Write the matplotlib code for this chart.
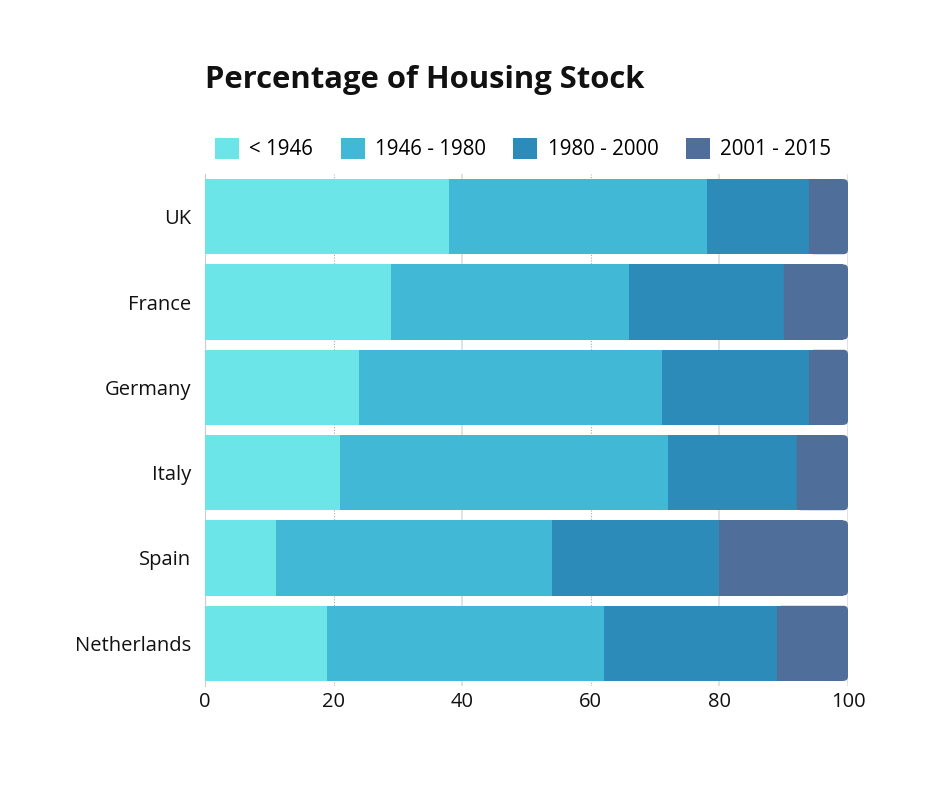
import matplotlib
matplotlib.use("Agg")
import matplotlib.pyplot as plt
from matplotlib.patches import FancyBboxPatch, Rectangle, Patch
import numpy as np

plt.rcParams['font.family'] = ['Open Sans', 'DejaVu Sans']

countries = ["UK", "France", "Germany", "Italy", "Spain", "Netherlands"]
series_names = ["< 1946", "1946 - 1980", "1980 - 2000", "2001 - 2015"]
pre1946 = [38, 29, 24, 21, 11, 19]
y1946_1980 = [40, 37, 47, 51, 43, 43]
y1980_2000 = [16, 24, 23, 20, 26, 27]
y2001_2015 = [6, 10, 6, 8, 20, 11]
colors = ["#6CE5E8", "#41B8D5", "#2D8BBA", "#506E9A"]
xticks = [0, 20, 40, 60, 80, 100]

fig = plt.figure(figsize=(9.4, 7.88), dpi=100)
ax = fig.add_axes([205/940, (788-686)/788, 643/940, 512/788])

H = 0.88
y = np.arange(len(countries))
left = np.zeros(len(countries))
all_series = [pre1946, y1946_1980, y1980_2000, y2001_2015]
for k, (name, vals, c) in enumerate(zip(series_names, all_series, colors)):
    if k < len(all_series) - 1:
        ax.barh(y, vals, left=left, height=H, color=c, edgecolor='none', zorder=3)
    else:
        # last segment with rounded right end
        r = 0.7
        aspect = (643/100) / (512/6)
        for yi, l, w in zip(y, left, vals):
            p = FancyBboxPatch((l, yi - H/2), w, H,
                               boxstyle=f"round,pad=0,rounding_size={r}",
                               mutation_aspect=aspect, fc=c, ec='none', zorder=3)
            ax.add_patch(p)
            ax.add_patch(Rectangle((l, yi - H/2), w - r, H, fc=c, ec='none', zorder=3))
    left += np.array(vals)

ax.set_xlim(0, 100)
ax.set_ylim(5.5, -0.5)
ax.set_yticks(y)
ax.set_yticklabels(countries, fontsize=14.5)
ax.set_xticks(xticks)
ax.set_xticklabels([str(t) for t in xticks], fontsize=14.5)
ax.tick_params(axis='both', length=0, colors='#111111')
ax.tick_params(axis='y', pad=10)
ax.tick_params(axis='x', pad=4)
for s in ['top', 'right', 'bottom']:
    ax.spines[s].set_visible(False)
ax.spines['left'].set_color('#cccccc')
for t in [20, 60]:
    ax.axvline(t, color='#aaaaaa', lw=0.8, ls=(0, (1, 1.5)), zorder=1)
for t in [40, 80, 100]:
    ax.axvline(t, color='#dddddd', lw=1.2, zorder=1)

fig.text(205/940, 1-80/788, "Percentage of Housing Stock", fontsize=22.3, fontweight='bold',
         va='center', ha='left', color='#111111')

handles = [Patch(fc=c, ec='none') for c in colors]
leg = fig.legend(handles, series_names, loc='center', bbox_to_anchor=(523/940, 1-149/788), ncol=4,
                 frameon=False, fontsize=14.8, handlelength=1.17, handleheight=1.17,
                 columnspacing=1.35, handletextpad=0.49)

fig.savefig("out.png", dpi=100)
